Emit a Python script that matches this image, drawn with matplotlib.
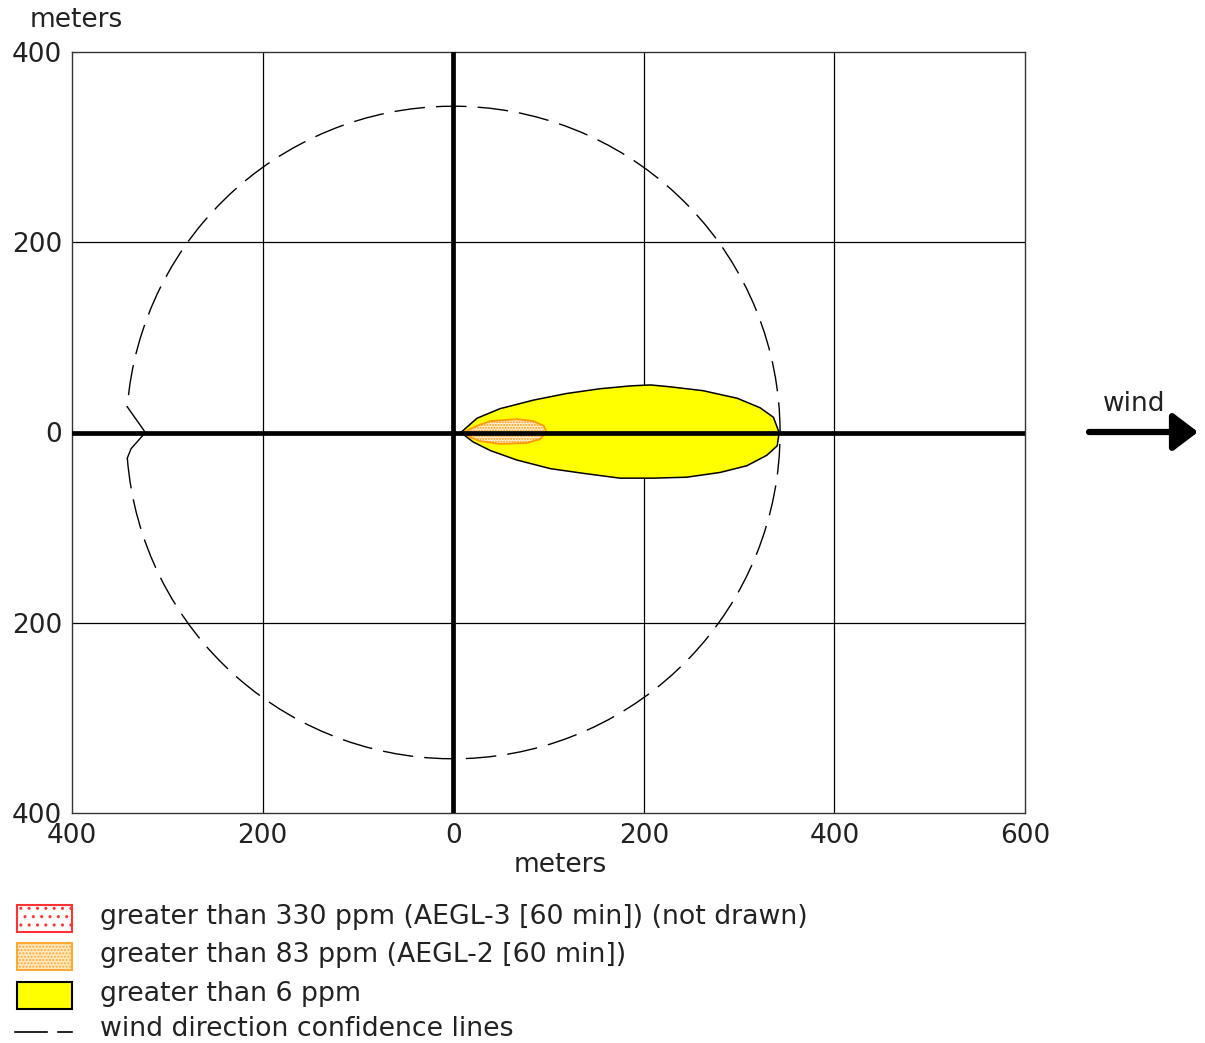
import matplotlib.pyplot as plt
from matplotlib.patches import Polygon, Arc, Rectangle
from matplotlib.lines import Line2D

# grid ticks (meters)
x_ticks = [-400, -200, 0, 200, 400, 600]
y_ticks = [-400, -200, 0, 200, 400]

# yellow zone (> 6 ppm)
plume_top_x = [8, 25, 49, 84, 119, 154, 186, 207, 228, 262, 298, 322, 336, 342]
plume_top_y = [0, 15, 25, 34, 41, 46, 49, 50, 48, 44, 36, 26, 16, 0]
plume_bot_x = [340, 329, 308, 280, 245, 210, 175, 137, 102, 67, 39, 21]
plume_bot_y = [-14, -24, -35, -42, -47, -48, -48, -43, -38, -29, -19, -10]

# orange zone (> 83 ppm)
aegl2_x = [10, 25, 39, 67, 84, 95, 98, 91, 77, 49, 28, 18]
aegl2_y = [0, 7, 12, 14, 12, 7, 0, -7, -11, -12, -9, -5]

# wind direction confidence lines
conf_radius = 343
conf_gap_angle = 175.5
notch_x = [-342, -323, -338, -342]
notch_y = [27, 0, -17, -27]

legend_labels = ['greater than 330 ppm (AEGL-3 [60 min]) (not drawn)',
                 'greater than 83 ppm (AEGL-2 [60 min])',
                 'greater than 6 ppm',
                 'wind direction confidence lines']

W, H = 1205, 1043
txt = '#222222'
fs = 19


def px(x, y):
    return (x / W, 1 - y / H)


fig = plt.figure(figsize=(W / 100, H / 100), dpi=100)
ax = fig.add_axes([72 / W, 1 - 813 / H, (1025 - 72) / W, (813 - 52) / H])
ax.set_xlim(-400, 600)
ax.set_ylim(-400, 400)

# grid
for gx in x_ticks[1:-1]:
    ax.axvline(gx, color='black', lw=0.9 if gx else 3.4, zorder=1 if gx else 4)
for gy in y_ticks[1:-1]:
    ax.axhline(gy, color='black', lw=0.9 if gy else 3.4, zorder=1 if gy else 4)

# zones
plume = list(zip(plume_top_x + plume_bot_x, plume_top_y + plume_bot_y))
ax.add_patch(Polygon(plume, closed=True, facecolor='#ffff00', edgecolor='black', lw=1.1,
                     joinstyle='round', zorder=2))
ax.add_patch(Polygon(list(zip(aegl2_x, aegl2_y)), closed=True, facecolor='#fff0dc',
                     edgecolor='#ff9900', hatch='......', lw=1.3, joinstyle='round', zorder=3))

# confidence lines
ax.add_patch(Arc((0, 0), 2 * conf_radius, 2 * conf_radius, theta1=-conf_gap_angle,
                 theta2=conf_gap_angle, color='black', lw=1.0, linestyle=(0, (22, 8)), zorder=5))
ax.plot(notch_x, notch_y, color='black', lw=1.0, zorder=5)

ax.set_xticks(x_ticks)
ax.set_xticklabels([str(abs(v)) for v in x_ticks])
ax.set_yticks(y_ticks)
ax.set_yticklabels([str(abs(v)) for v in y_ticks])
ax.tick_params(length=0, labelsize=fs, labelcolor=txt, pad=7)
for s in ax.spines.values():
    s.set_linewidth(1.0)
    s.set_color('#333333')

fig.text(*px(560, 865), 'meters', ha='center', va='center', fontsize=fs, color=txt)
fig.text(*px(76, 20), 'meters', ha='center', va='center', fontsize=fs, color=txt)

# wind arrow
fig.text(*px(1134, 404), 'wind', ha='center', va='center', fontsize=fs, color=txt)
ax.annotate('', xy=px(1198, 432), xytext=px(1089, 432), xycoords='figure fraction',
            textcoords='figure fraction',
            arrowprops=dict(arrowstyle='-|>,head_length=0.5,head_width=0.38', lw=4.5,
                            mutation_scale=30, color='black', capstyle='round',
                            shrinkA=0, shrinkB=0))

# legend
boxes = [dict(facecolor='white', edgecolor='#ff3333', hatch='..'),
         dict(facecolor='#ffe8c0', edgecolor='#ffaa33', hatch='.....'),
         dict(facecolor='#ffff00', edgecolor='black')]
box_y = [905, 943, 982]
for (y0, st) in zip(box_y, boxes):
    x0, y1 = px(17, y0 + 27)
    fig.add_artist(Rectangle((x0, y1), 55 / W, 27 / H, transform=fig.transFigure, lw=1.5, **st))
fig.add_artist(Line2D([15 / W, 47 / W], [1 - 1032 / H] * 2, color='black', lw=1.2))
fig.add_artist(Line2D([58 / W, 72 / W], [1 - 1032 / H] * 2, color='black', lw=1.2))
for y0, lab in zip([917, 955, 994, 1029], legend_labels):
    fig.text(*px(100, y0), lab, ha='left', va='center', fontsize=19.3, color=txt)

fig.savefig('out.png', dpi=100)
